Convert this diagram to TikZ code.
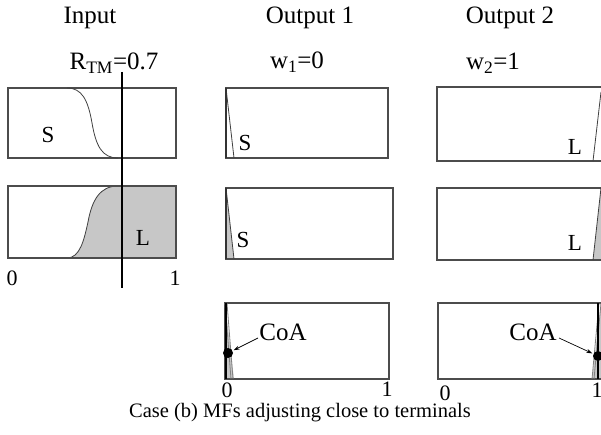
\documentclass[tikz,border=0pt]{standalone}
\usepackage{fontspec}
\setmainfont{Liberation Serif}
\usetikzlibrary{arrows.meta}
\tikzset{
  boxline/.style={draw=black!70, line width=1.1pt},
  mfline/.style={draw=black!75, line width=0.8pt},
  mffill/.style={fill=black!22},
  titletext/.style={inner sep=0pt, font=\fontsize{25}{30}\selectfont},
  lbl/.style={inner sep=0pt, font=\fontsize{22}{26}\selectfont},
  mflbl/.style={inner sep=0pt, font=\fontsize{23}{27}\selectfont},
  coalbl/.style={inner sep=0pt, font=\fontsize{25}{30}\selectfont},
  captext/.style={inner sep=0pt, font=\fontsize{20.5}{24}\selectfont},
  coadot/.style={circle, fill=black, inner sep=0pt, minimum size=10pt},
  coaarrow/.style={-{Stealth[length=6pt,width=4pt]}, line width=0.7pt, shorten >=1pt}
}
\begin{document}
\begin{tikzpicture}[x=1pt,y=-1pt]
\useasboundingbox (0,0) rectangle (601,435);
% ---------- titles ----------
\node[titletext] (tin) at (90,18) {Input};
\node[titletext] (tout1) at (310,18) {Output 1};
\node[titletext] (tout2) at (510,18) {Output 2};
\node[titletext] (rtm) at (114,63) {R\textsubscript{TM}=0.7};
\node[titletext] (w1) at (297,62) {w\textsubscript{1}=0};
\node[titletext] (w2) at (493,63) {w\textsubscript{2}=1};
% ---------- input column ----------
\draw[boxline] (8,88) rectangle (176,158);
\draw[mfline] (67,88) .. controls (82,88) and (88,100) .. (92,123)
   .. controls (96,146) and (102,158) .. (118,158);
\draw[boxline] (118,158) -- (176,158);
\fill[mffill] (67,258) .. controls (80,258) and (84,240) .. (88,222)
   .. controls (92,200) and (100,186) .. (118,186) -- (176,186) -- (176,258) -- cycle;
\draw[mfline] (67,258) .. controls (80,258) and (84,240) .. (88,222)
   .. controls (92,200) and (100,186) .. (118,186);
\draw[boxline] (8,186) rectangle (176,258);
\node[mflbl] (s1) at (48,135) {S};
\node[mflbl] (l1) at (143,238) {L};
\node[lbl] (in0) at (12,278) {0};
\node[lbl] (in1) at (175,278) {1};
\coordinate (vtop) at (122,72);
\coordinate (vbot) at (122,288);
\draw[line width=1.4pt] (vtop) -- (vbot);
% ---------- output 1 ----------
\draw[boxline] (226,88) rectangle (388,158);
\draw[mfline] (226,88) -- (234,158);
\draw[line width=1.8pt, black!80] (226,88) -- (226,158);
\node[mflbl] (s2) at (245,143) {S};
\fill[mffill] (226,188) -- (234,259) -- (226,259) -- cycle;
\draw[boxline] (226,188) rectangle (393,259);
\draw[mfline] (226,188) -- (234,259);
\draw[line width=1.8pt, black!80] (226,188) -- (226,259);
\node[mflbl] (s3) at (243,240) {S};
\fill[mffill] (225,303) -- (234,379) -- (225,379) -- cycle;
\draw[boxline] (225,303) rectangle (389,379);
\draw[mfline, black!50] (225,303) -- (231,379);
\draw[mfline, black!50] (227,303) -- (233,379);
\draw[line width=2pt] (226,303) -- (226,379);
\node[coadot] (d1) at (228,353) {};
\node[coalbl] (coa1) at (283,332) {CoA};
\coordinate (a1) at (258,338);
\draw[coaarrow] (a1) -- (d1);
\node[lbl] (o10) at (227,390) {0};
\node[lbl] (o11) at (387,389) {1};
% ---------- output 2 ----------
\draw[boxline] (437,87) rectangle (604,161);
\draw[mfline] (601,92) -- (593,161);
\node[mflbl] (l2) at (575,147) {L};
\fill[mffill] (601,188) -- (593,260) -- (601,260) -- cycle;
\draw[boxline] (437,188) rectangle (604,260);
\draw[mfline] (601,188) -- (593,260);
\node[mflbl] (l3) at (575,243) {L};
\fill[mffill] (601,303) -- (592,379) -- (601,379) -- cycle;
\draw[boxline] (438,303) rectangle (604,379);
\draw[mfline, black!50] (601,303) -- (594,379);
\draw[mfline, black!50] (599,303) -- (592,379);
\draw[line width=1.2pt] (598,303) -- (598,379);
\node[coadot] (d2) at (598,356) {};
\node[coalbl] (coa2) at (533,332) {CoA};
\coordinate (a2) at (559,338);
\draw[coaarrow] (a2) -- (d2);
\node[lbl] (o20) at (445,393) {0};
\node[lbl] (o21) at (597,390) {1};
% ---------- caption ----------
\node[captext] (caption) at (300,413) {Case (b) MFs adjusting close to terminals};
\end{tikzpicture}
\end{document}
